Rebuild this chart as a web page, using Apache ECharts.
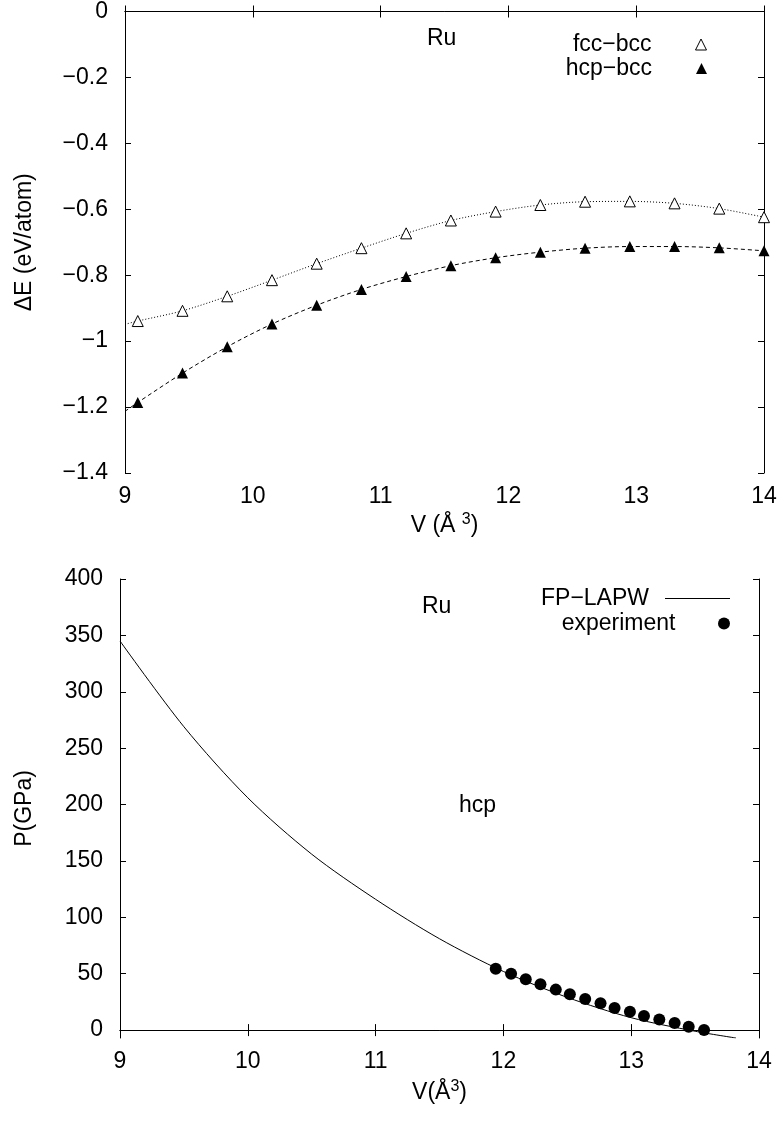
<!DOCTYPE html>
<html><head><meta charset="utf-8">
<script src="https://cdn.jsdelivr.net/npm/echarts@6/dist/echarts.min.js"></script>
<style>html,body{margin:0;padding:0;background:#fff}#c{width:783px;height:1124px}</style>
</head><body><div id="c"></div>
<script>
// ---- Top panel: energy differences (eV/atom) vs volume ----
const vTop = [9.1, 9.45, 9.8, 10.15, 10.5, 10.85, 11.2, 11.55, 11.9, 12.25, 12.6, 12.95, 13.3, 13.65, 14.0];
const fccBcc = [-0.939, -0.908, -0.864, -0.815, -0.765, -0.718, -0.673, -0.634, -0.607, -0.587, -0.577, -0.576, -0.582, -0.598, -0.624];
const hcpBcc = [-1.186, -1.097, -1.017, -0.948, -0.891, -0.843, -0.804, -0.771, -0.747, -0.730, -0.718, -0.713, -0.713, -0.717, -0.726];
const fccFitStart = [9.0, -0.949];
const hcpFitStart = [9.0, -1.213];
const topYTicks = [-1.4, -1.2, -1.0, -0.8, -0.6, -0.4, -0.2, 0];
const xTicks = [9, 10, 11, 12, 13, 14];

// ---- Bottom panel: pressure (GPa) vs volume ----
const vLapw = [9.0, 9.5, 10.0, 10.5, 11.0, 11.5, 12.0, 12.5, 13.0, 13.5, 13.82];
const pLapw = [345, 269, 206, 156, 116, 81, 52, 29, 11, -1, -7];
const vExp = [11.94, 12.06, 12.175, 12.29, 12.41, 12.52, 12.64, 12.76, 12.87, 12.99, 13.10, 13.22, 13.34, 13.45, 13.57];
const pExp = [54.4, 50.0, 45.0, 40.6, 35.9, 31.8, 27.6, 23.9, 19.7, 16.2, 12.6, 9.4, 6.3, 2.9, 0.0];
const bottomYTicks = [0, 50, 100, 150, 200, 250, 300, 350, 400];

const FONT = 'Liberation Sans';
const FS = 23;
const pair = (xs, ys) => xs.map((x, i) => [x, ys[i]]);
const minus = v => String(Math.round(v * 10) / 10).replace('-', '\u2212');

const txt = {color: '#000', fontFamily: FONT, fontSize: FS};
const axLine = {show: true, lineStyle: {color: '#000', width: 1}};
const tick = {show: true, inside: true, length: 6, lineStyle: {color: '#000', width: 1}};
const nameRich = {
  m: {fontFamily: FONT, fontSize: FS, color: '#000', lineHeight: FS, padding: [5, 0, 0, 0]},
  s: {fontFamily: FONT, fontSize: 16, color: '#000', lineHeight: 16, verticalAlign: 'top'}
};

function xAxes(grid, name, nameGap) {
  return [
    {gridIndex: grid, type: 'value', min: 9, max: 14, interval: 1, position: 'bottom',
     axisLine: axLine, axisTick: tick, splitLine: {show: false},
     axisLabel: Object.assign({margin: 12}, txt),
     name: name, nameLocation: 'middle', nameGap: nameGap,
     nameTextStyle: {fontFamily: FONT, fontSize: FS, color: '#000', rich: nameRich}},
    {gridIndex: grid, type: 'value', min: 9, max: 14, interval: 1, position: 'top',
     axisLine: axLine, axisTick: tick, splitLine: {show: false}, axisLabel: {show: false}}
  ];
}

const chart = echarts.init(document.getElementById('c'));
chart.setOption({
  animation: false,
  backgroundColor: '#fff',
  grid: [
    {left: 125, right: 19, top: 10, height: 463},
    {left: 120, right: 24, top: 579, height: 459}
  ],
  xAxis: [].concat(
    xAxes(0, '{m|V (Å }{s|3}{m|)}', 34),
    xAxes(1, '{m|V(Å}{s|3}{m|)}', 41)
  ),
  yAxis: [
    {gridIndex: 0, type: 'value', min: -1.4, max: 0, interval: 0.2, position: 'left',
     axisLine: axLine, axisTick: tick, splitLine: {show: false},
     axisLabel: Object.assign({margin: 17, formatter: minus}, txt),
     name: 'ΔE (eV/atom)', nameLocation: 'middle', nameGap: 89, nameRotate: 90,
     nameTextStyle: txt},
    {gridIndex: 0, type: 'value', min: -1.4, max: 0, interval: 0.2, position: 'right',
     axisLine: axLine, axisTick: tick, splitLine: {show: false}, axisLabel: {show: false}},
    {gridIndex: 1, type: 'value', min: -7, max: 400, position: 'left',
     axisLine: axLine, axisTick: Object.assign({customValues: bottomYTicks}, tick), splitLine: {show: false},
     axisLabel: Object.assign({margin: 17, customValues: bottomYTicks}, txt),
     name: 'P(GPa)', nameLocation: 'middle', nameGap: 84, nameRotate: 90,
     nameTextStyle: txt},
    {gridIndex: 1, type: 'value', min: -7, max: 400, position: 'right',
     axisLine: axLine, axisTick: Object.assign({customValues: bottomYTicks}, tick), splitLine: {show: false},
     axisLabel: {show: false, customValues: bottomYTicks}}
  ],
  legend: [
    {data: ['fcc\u2212bcc'], right: 76, top: 33, padding: 0, align: 'right', orient: 'vertical',
     itemWidth: 11, itemHeight: 11, selectedMode: false, itemStyle: {borderWidth: 1, opacity: 1},
     textStyle: Object.assign({padding: [0, 39, 0, 0]}, txt)},
    {data: ['hcp\u2212bcc'], right: 76, top: 57, padding: 0, align: 'right', orient: 'vertical',
     itemWidth: 11, itemHeight: 11, selectedMode: false, itemStyle: {opacity: 1},
     textStyle: Object.assign({padding: [0, 39, 0, 0]}, txt)},
    {data: ['FP\u2212LAPW'], right: 53, top: 587, padding: 0, align: 'right', orient: 'vertical',
     icon: 'rect', itemWidth: 65, itemHeight: 1, selectedMode: false, itemStyle: {color: '#000', opacity: 1},
     textStyle: Object.assign({padding: [0, 11, 0, 0]}, txt)},
    {data: ['experiment'], right: 53, top: 612, padding: 0, align: 'right', orient: 'vertical',
     itemWidth: 65, itemHeight: 12, selectedMode: false, itemStyle: {opacity: 1},
     textStyle: Object.assign({padding: [0, 11, 0, 0]}, txt)}
  ],
  graphic: [
    {type: 'text', left: 427, top: 27, style: {text: 'Ru', font: FS + 'px "' + FONT + '"', fill: '#000'}},
    {type: 'text', left: 422, top: 595, style: {text: 'Ru', font: FS + 'px "' + FONT + '"', fill: '#000'}},
    {type: 'text', left: 459, top: 794, style: {text: 'hcp', font: FS + 'px "' + FONT + '"', fill: '#000'}}
  ],
  series: [
    {name: 'fcc fit', type: 'line', xAxisIndex: 0, yAxisIndex: 0,
     data: [fccFitStart].concat(pair(vTop, fccBcc)), showSymbol: false, symbol: 'none',
     smooth: 0.3, z: 1,
     lineStyle: {color: '#000', width: 1, type: [1, 2]}},
    {name: 'hcp fit', type: 'line', xAxisIndex: 0, yAxisIndex: 0,
     data: [hcpFitStart].concat(pair(vTop, hcpBcc)), showSymbol: false, symbol: 'none',
     smooth: 0.3, z: 1,
     lineStyle: {color: '#000', width: 1, type: [4, 3]}},
    {name: 'fcc\u2212bcc', type: 'scatter', xAxisIndex: 0, yAxisIndex: 0,
     data: pair(vTop, fccBcc), symbol: 'triangle', symbolSize: 11, clip: false, z: 3,
     itemStyle: {color: '#fff', borderColor: '#000', borderWidth: 1, opacity: 1}},
    {name: 'hcp\u2212bcc', type: 'scatter', xAxisIndex: 0, yAxisIndex: 0,
     data: pair(vTop, hcpBcc), symbol: 'triangle', symbolSize: 11, clip: false, z: 3,
     itemStyle: {color: '#000', opacity: 1}},
    {name: 'FP\u2212LAPW', type: 'line', xAxisIndex: 2, yAxisIndex: 2,
     data: pair(vLapw, pLapw), showSymbol: false, symbol: 'none',
     smooth: 0.3, z: 1,
     lineStyle: {color: '#000', width: 1}, itemStyle: {color: '#000'}},
    {name: 'experiment', type: 'scatter', xAxisIndex: 2, yAxisIndex: 2,
     data: pair(vExp, pExp), symbol: 'circle', symbolSize: 12, clip: false, z: 3,
     itemStyle: {color: '#000', opacity: 1}}
  ]
});
</script>
</body></html>
